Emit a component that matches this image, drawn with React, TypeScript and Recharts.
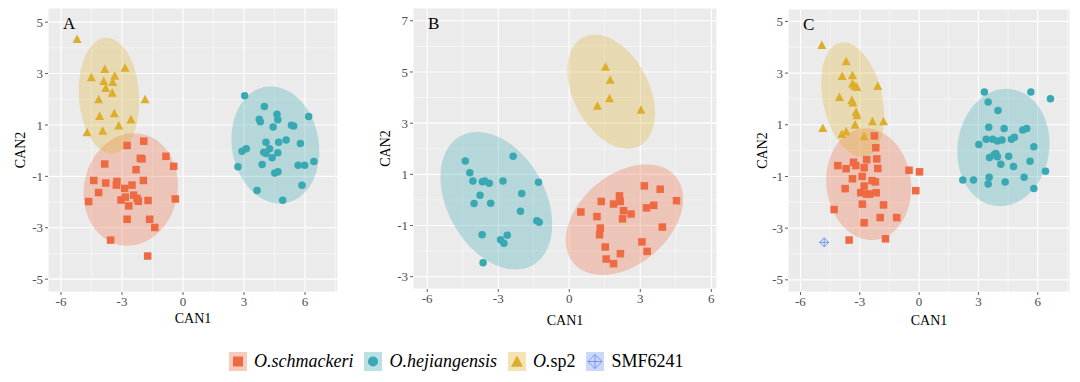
import React from 'react';
import { ScatterChart, Scatter, XAxis, YAxis, CartesianGrid, Customized } from 'recharts';

type Pt = [number, number];

const RED = '#EE6A43';
const TEAL = '#38A8B3';
const GOLD = '#DDAE2B';
const BLUE = '#6A8FEE';
const FONT = '"Liberation Serif", "Times New Roman", serif';

// Panel A
const SCH_A: Pt[] = [
  [-1.93, 0.37], [-2.75, 0.2], [-0.84, -0.22], [-0.46, -0.61], [-2.02, -0.32], [-2.1, -0.3],
  [-3.85, -0.52], [-2.31, -0.74], [-4.39, -1.16], [-3.8, -1.26], [-3.25, -1.2], [-3.28, -1.34],
  [-2.51, -1.34], [-1.95, -1.16], [-2.87, -1.47], [-4.15, -1.63], [-2.43, -1.73], [-4.64, -1.98],
  [-3.05, -1.92], [-2.84, -1.81], [-2.26, -1.86], [-2.2, -1.97], [-1.72, -1.94], [-0.38, -1.88],
  [-2.67, -2.15], [-2.75, -2.67], [-1.64, -2.67], [-1.39, -2.99], [-3.56, -3.48], [-1.74, -4.1],
];
const HEJ_A: Pt[] = [
  [3.03, 2.14], [4.0, 1.72], [4.62, 1.42], [3.75, 1.22], [3.8, 1.12], [4.66, 1.2], [4.43, 0.92],
  [6.18, 1.33], [5.33, 0.99], [5.44, 0.96], [4.08, 0.33], [4.7, 0.33], [5.07, 0.41], [5.77, 0.28],
  [3.11, 0.07], [2.9, -0.02], [3.97, -0.06], [4.26, 0.07], [4.08, -0.11], [4.66, -0.08], [4.38, -0.28],
  [2.7, -0.63], [3.89, -0.54], [5.66, -0.57], [5.98, -0.57], [6.43, -0.42], [4.51, -0.87], [4.67, -0.82],
  [5.85, -1.35], [3.64, -1.55], [4.9, -1.93],
];
const SP2_A: Pt[] = [
  [-5.21, 4.33], [-4.51, 2.84], [-3.85, 3.16], [-3.9, 2.69], [-3.36, 2.9], [-3.46, 2.66], [-3.8, 2.42],
  [-3.48, 2.24], [-2.85, 3.21], [-4.15, 1.98], [-1.87, 1.98], [-4.1, 1.33], [-3.38, 1.44], [-2.56, 1.2],
  [-3.16, 0.96], [-4.72, 0.7], [-3.95, 0.76],
];

// Panel B
const SCH_B: Pt[] = [
  [3.17, 0.55], [3.84, 0.42], [2.12, 0.16], [1.35, -0.06], [1.87, -0.16], [2.15, -0.06], [3.57, -0.21],
  [3.26, -0.31], [4.53, -0.03], [0.49, -0.47], [2.29, -0.42], [2.61, -0.55], [2.25, -0.74], [1.17, -0.65],
  [1.31, -1.1], [1.28, -1.36], [3.93, -1.06], [3.07, -1.64], [1.52, -1.84], [3.29, -2.01], [2.16, -2.1],
  [1.56, -2.31], [1.87, -2.49],
];
const HEJ_B: Pt[] = [
  [-4.39, 1.52], [-2.37, 1.71], [-4.2, 1.06], [-4.07, 0.74], [-3.67, 0.71], [-3.57, 0.74], [-3.38, 0.65],
  [-2.8, 0.74], [-1.3, 0.69], [-3.77, 0.18], [-2.01, 0.25], [-4.02, -0.14], [-3.32, -0.13], [-2.06, -0.44],
  [-1.37, -0.81], [-1.27, -0.87], [-3.68, -1.36], [-2.9, -1.56], [-2.62, -1.38], [-2.76, -1.69], [-3.64, -2.45],
];
const SP2_B: Pt[] = [[1.53, 5.19], [1.73, 4.68], [1.7, 3.96], [1.19, 3.66], [3.03, 3.51]];

// Panel C
const SCH_C: Pt[] = [
  [-2.26, 0.57], [-2.19, 0.11], [-4.11, -0.58], [-3.32, -0.45], [-3.2, -0.58], [-2.65, -0.35], [-2.14, -0.32],
  [-3.69, -0.7], [-2.78, -0.66], [-2.09, -0.69], [-0.51, -0.76], [0.02, -0.82], [-3.37, -1.09], [-2.88, -1.0],
  [-2.38, -1.16], [-2.21, -1.21], [-2.78, -1.37], [-3.74, -1.47], [-2.95, -1.63], [-2.65, -1.68], [-2.51, -1.68],
  [-2.17, -1.63], [-0.17, -1.55], [-2.87, -2.07], [-1.8, -2.1], [-4.3, -2.28], [-1.97, -2.59], [-1.13, -2.59],
  [-2.78, -2.79], [-3.54, -3.46], [-1.7, -3.41],
];
const HEJ_C: Pt[] = [
  [3.3, 2.27], [5.65, 2.27], [6.64, 2.01], [3.49, 1.88], [3.99, 1.55], [3.52, 0.9], [4.3, 0.86], [5.24, 0.8],
  [5.44, 0.86], [3.02, 0.24], [3.39, 0.44], [3.72, 0.44], [3.96, 0.37], [4.19, 0.41], [4.67, 0.44], [4.82, 0.52],
  [5.8, 0.15], [3.88, -0.11], [3.79, -0.16], [3.56, -0.27], [3.96, -0.24], [4.53, -0.22], [5.61, -0.41],
  [4.13, -0.53], [4.77, -0.61], [6.39, -0.8], [3.54, -1.03], [5.31, -1.03], [2.21, -1.14], [2.75, -1.14],
  [3.49, -1.29], [4.35, -1.21], [5.8, -1.47],
];
const SP2_C: Pt[] = [
  [-4.92, 4.07], [-3.69, 3.44], [-3.89, 2.87], [-3.37, 2.9], [-3.37, 2.58], [-3.27, 2.5], [-3.15, 2.45],
  [-2.09, 2.49], [-4.03, 2.06], [-3.4, 1.94], [-3.35, 1.85], [-3.19, 1.48], [-3.15, 1.35], [-3.24, 0.99],
  [-1.8, 1.12], [-2.36, 1.12], [-4.87, 0.86], [-3.91, 0.63], [-3.69, 0.73], [-2.78, 0.54],
];
const SMF_C: Pt[] = [[-4.8, -3.55]];

// ellipses: centre x, centre y, half-width, half-height, tilt (deg)
const ELL_A_SCH = [-2.57, -1.51, 2.32, 2.19, 4];
const ELL_A_HEJ = [4.54, 0.22, 2.16, 2.28, -6];
const ELL_A_SP2 = [-3.64, 2.14, 1.49, 2.25, -5];
const ELL_B_SCH = [2.33, -0.77, 2.48, 2.16, 22];
const ELL_B_HEJ = [-3.08, -0.03, 2.36, 2.69, -20];
const ELL_B_SP2 = [1.77, 4.23, 1.85, 2.23, -22];
const ELL_C_SCH = [-2.55, -1.3, 2.15, 2.16, -4];
const ELL_C_HEJ = [4.26, 0.12, 2.33, 2.27, 4];
const ELL_C_SP2 = [-3.36, 1.97, 1.59, 2.22, -17];

const TICKS_6 = [-6, -3, 0, 3, 6];
const MINOR_X = [-4.5, -1.5, 1.5, 4.5, 7.5];
const TICKS_Y_AC = [-5, -3, -1, 1, 3, 5];
const MINOR_Y_AC = [-4, -2, 0, 2, 4];
const TICKS_Y_B = [-3, -1, 1, 3, 5, 7];
const MINOR_Y_B = [-2, 0, 2, 4, 6];

const toXY = (pts: Pt[]) => pts.map(([x, y]) => ({ x, y }));

const ellipse = ([cx, cy, rx, ry, tilt]: number[]) => {
  const p = (tilt * Math.PI) / 180;
  return Array.from({ length: 73 }, (_, i) => {
    const t = (i / 72) * 2 * Math.PI;
    return { x: cx + rx * Math.cos(t), y: cy + ry * Math.sin(t + p) };
  });
};

const Empty = () => <g />;
const Square = ({ cx, cy, s = 7.5 }: any) => (
  <rect x={cx - s / 2} y={cy - s / 2} width={s} height={s} fill={RED} />
);
const Dot = ({ cx, cy, s = 7.5 }: any) => <circle cx={cx} cy={cy} r={s / 2} fill={TEAL} />;
const Tri = ({ cx, cy, s = 9 }: any) => (
  <polygon
    points={`${cx},${cy - s * 0.55} ${cx - s / 2},${cy + s * 0.4} ${cx + s / 2},${cy + s * 0.4}`}
    fill={GOLD}
  />
);
const DiamondPlus = ({ cx, cy, s = 9 }: any) => {
  const h = s / 2;
  return (
    <g stroke={BLUE} strokeWidth={0.9} fill="none">
      <polygon points={`${cx},${cy - h} ${cx + h},${cy} ${cx},${cy + h} ${cx - h},${cy}`} />
      <line x1={cx - h} y1={cy} x2={cx + h} y2={cy} />
      <line x1={cx} y1={cy - h} x2={cx} y2={cy + h} />
    </g>
  );
};

const tickStyle = { fill: '#4D4D4D', fontSize: 13, fontFamily: FONT };
const titleStyle = { fill: '#000', fontSize: 14, fontFamily: FONT, textAnchor: 'middle' as const };

function Panel(props: any) {
  const { left, margin, yWidth, xHeight, xDomain, yDomain, yTicks, yMinor, letter, sch, hej, sp2, smf, ells, xLabOff, yLabX } = props;
  const ellCols = [RED, TEAL, GOLD];
  return (
    <div style={{ position: 'absolute', left, top: 0 }}>
      <ScatterChart width={360} height={330} margin={margin}>
        <CartesianGrid fill="#EBEBEB" stroke="#FFFFFF" strokeWidth={0.5} verticalValues={MINOR_X} horizontalValues={yMinor} />
        <CartesianGrid stroke="#FFFFFF" strokeWidth={1.1} />
        <XAxis
          type="number"
          dataKey="x"
          domain={xDomain}
          ticks={TICKS_6}
          interval={0}
          allowDataOverflow
          axisLine={false}
          tickLine={{ stroke: '#333', strokeWidth: 0.8 }}
          tickSize={3}
          tickMargin={2}
          tick={tickStyle}
          height={xHeight}
          label={{ value: 'CAN1', position: 'insideBottom', offset: xLabOff, style: titleStyle }}
        />
        <YAxis
          type="number"
          dataKey="y"
          domain={yDomain}
          ticks={yTicks}
          interval={0}
          allowDataOverflow
          axisLine={false}
          tickLine={{ stroke: '#333', strokeWidth: 0.8 }}
          tickSize={3}
          tickMargin={2}
          tick={tickStyle}
          width={yWidth}
          label={{ value: 'CAN2', angle: -90, position: 'insideLeft', offset: yLabX, style: titleStyle }}
        />
        {ells.map((e: number[], i: number) => (
          <Scatter
            key={'e' + i}
            data={ellipse(e)}
            line={{ fill: ellCols[i], fillOpacity: 0.3, stroke: 'none' }}
            lineType="joint"
            shape={Empty}
            isAnimationActive={false}
          />
        ))}
        <Scatter data={toXY(sch)} shape={Square} isAnimationActive={false} />
        <Scatter data={toXY(hej)} shape={Dot} isAnimationActive={false} />
        <Scatter data={toXY(sp2)} shape={Tri} isAnimationActive={false} />
        {smf && <Scatter data={toXY(smf)} shape={DiamondPlus} isAnimationActive={false} />}
        <Customized
          component={() => (
            <text x={yWidth + margin.left + 15} y={margin.top + 21} fontSize={17} fontFamily={FONT} fill="#000">
              {letter}
            </text>
          )}
        />
      </ScatterChart>
    </div>
  );
}

const KeyBox = ({ color, children }: any) => (
  <svg width={18} height={19} style={{ display: 'block' }}>
    <rect x={0} y={0} width={18} height={19} fill={color} fillOpacity={0.35} />
    {children}
  </svg>
);

function Legend() {
  const item = { display: 'flex', alignItems: 'center' };
  const txt = { fontSize: 18, fontFamily: FONT, color: '#000', marginLeft: 7, marginRight: 11, lineHeight: '19px' };
  return (
    <div style={{ position: 'absolute', left: 229, top: 352, display: 'flex', alignItems: 'center' }}>
      <div style={item}>
        <KeyBox color={RED}><Square cx={9} cy={9.5} s={10} /></KeyBox>
        <span style={{ ...txt, fontStyle: 'italic' }}>O.schmackeri</span>
      </div>
      <div style={item}>
        <KeyBox color={TEAL}><Dot cx={9} cy={9.5} s={10} /></KeyBox>
        <span style={{ ...txt, fontStyle: 'italic' }}>O.hejiangensis</span>
      </div>
      <div style={item}>
        <KeyBox color={GOLD}><Tri cx={9} cy={10} s={12} /></KeyBox>
        <span style={txt}><i>O.</i>sp2</span>
      </div>
      <div style={item}>
        <KeyBox color={BLUE}><DiamondPlus cx={9} cy={9.5} s={14} /></KeyBox>
        <span style={txt}>SMF6241</span>
      </div>
    </div>
  );
}

export default function App() {
  return (
    <div style={{ position: 'absolute', left: 0, top: 0, width: 1080, height: 382, background: '#fff', fontFamily: FONT }}>
      <Panel
        left={0}
        margin={{ top: 8, right: 22, bottom: 0, left: 0 }}
        yWidth={48}
        xHeight={38}
        xDomain={[-6.64, 7.62]}
        yDomain={[-5.5, 5.55]}
        yTicks={TICKS_Y_AC}
        yMinor={MINOR_Y_AC}
        letter="A"
        sch={SCH_A}
        hej={HEJ_A}
        sp2={SP2_A}
        ells={[ELL_A_SCH, ELL_A_HEJ, ELL_A_SP2]}
        xLabOff={7}
        yLabX={20}
      />
      <Panel
        left={360}
        margin={{ top: 8, right: 3, bottom: 0, left: 0 }}
        yWidth={53}
        xHeight={41}
        xDomain={[-6.6, 6.24]}
        yDomain={[-3.48, 7.5]}
        yTicks={TICKS_Y_B}
        yMinor={MINOR_Y_B}
        letter="B"
        sch={SCH_B}
        hej={HEJ_B}
        sp2={SP2_B}
        ells={[ELL_B_SCH, ELL_B_HEJ, ELL_B_SP2]}
        xLabOff={5}
        yLabX={25}
      />
      <Panel
        left={720}
        margin={{ top: 9, right: 10, bottom: 0, left: 0 }}
        yWidth={68}
        xHeight={38}
        xDomain={[-6.63, 7.63]}
        yDomain={[-5.47, 5.48]}
        yTicks={TICKS_Y_AC}
        yMinor={MINOR_Y_AC}
        letter="C"
        sch={SCH_C}
        hej={HEJ_C}
        sp2={SP2_C}
        smf={SMF_C}
        ells={[ELL_C_SCH, ELL_C_HEJ, ELL_C_SP2]}
        xLabOff={5}
        yLabX={42}
      />
      <Legend />
    </div>
  );
}
